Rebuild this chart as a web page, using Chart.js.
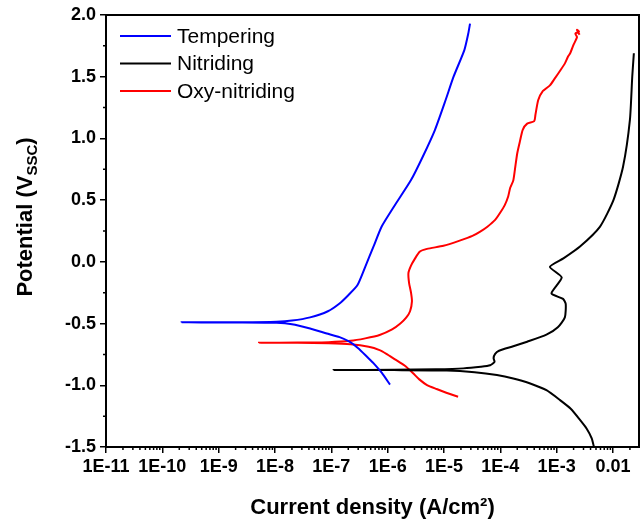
<!DOCTYPE html>
<html>
<head>
<meta charset="utf-8">
<script src="https://cdn.jsdelivr.net/npm/chart.js@4.4.0/dist/chart.umd.min.js"></script>
<style>
  html, body { margin: 0; padding: 0; background: #fff; }
  #wrap { width: 644px; height: 521px; }
</style>
</head>
<body>
<div id="wrap"><canvas id="myChart"></canvas></div>
<script>
const seriesNames = ['Tempering', 'Nitriding', 'Oxy-nitriding'];
const seriesColors = ['#0000ff', '#000000', '#ff0000'];

// each curve runs cathodic end -> corrosion potential -> anodic end
const temperingCurrent = [1.1e-6, 7.9e-7, 5.6e-7, 4.3e-7, 3.0e-7, 2.1e-7, 1.4e-7, 8.3e-8, 4.2e-8, 2.0e-8, 1.07e-8, 2.5e-9, 2.2e-10,
  2.5e-9, 1.07e-8, 2.0e-8, 4.2e-8, 8.7e-8, 1.4e-7, 2.0e-7, 2.9e-7, 4.0e-7, 5.6e-7, 7.8e-7, 1.29e-6, 2.6e-6, 4.2e-6, 6.9e-6, 1.07e-5, 1.48e-5, 2.3e-5, 2.7e-5, 2.9e-5];
const temperingPotential = [-0.995, -0.90, -0.82, -0.769, -0.70, -0.647, -0.61, -0.58, -0.54, -0.505, -0.494, -0.491, -0.490,
  -0.489, -0.485, -0.476, -0.450, -0.400, -0.337, -0.270, -0.19, -0.04, 0.123, 0.285, 0.447, 0.663, 0.852, 1.068, 1.311, 1.50, 1.716, 1.85, 1.93];

const nitridingCurrent = [4.6e-3, 4.2e-3, 3.4e-3, 2.6e-3, 1.78e-3, 1.15e-3, 6.6e-4, 3.4e-4, 1.7e-4, 8.7e-5, 3.5e-5, 1.12e-5, 1.3e-6, 1.1e-7,
  1.3e-6, 7.2e-6, 2.2e-5, 4.5e-5, 6.6e-5, 7.9e-5, 7.6e-5, 8.1e-5, 9.5e-5, 1.7e-4, 3.0e-4, 6.6e-4, 1.05e-3, 1.4e-3, 1.45e-3, 1.3e-3, 8.1e-4,
  1.23e-3, 7.6e-4, 1.32e-3, 2.6e-3, 5.9e-3, 1.02e-2, 1.51e-2, 2.0e-2, 2.2e-2, 2.35e-2];
const nitridingPotential = [-1.50, -1.43, -1.35, -1.28, -1.19, -1.12, -1.04, -0.985, -0.945, -0.917, -0.894, -0.880, -0.877, -0.876,
  -0.875, -0.870, -0.863, -0.850, -0.838, -0.81, -0.78, -0.745, -0.720, -0.684, -0.647, -0.59, -0.53, -0.45, -0.34, -0.30, -0.255,
  -0.126, -0.04, 0.028, 0.124, 0.286, 0.50, 0.77, 1.15, 1.50, 1.69];

const oxyCurrent = [1.78e-5, 1.1e-5, 7.4e-6, 5.0e-6, 3.6e-6, 2.8e-6, 2.0e-6, 1.35e-6, 9.5e-7, 7.2e-7, 4.6e-7, 2.2e-7, 9.0e-8, 2.5e-8, 5.2e-9,
  2.5e-8, 9.0e-8, 2.2e-7, 4.0e-7, 7.2e-7, 1.2e-6, 1.68e-6, 2.15e-6, 2.5e-6, 2.7e-6, 2.6e-6, 2.4e-6, 2.34e-6, 2.6e-6, 3.0e-6, 3.7e-6,
  5.0e-6, 9.8e-6, 1.9e-5, 3.2e-5, 4.4e-5, 5.9e-5, 8.1e-5, 1.0e-4, 1.2e-4, 1.38e-4, 1.5e-4, 1.7e-4, 1.82e-4, 2.0e-4, 2.24e-4, 2.5e-4,
  3.0e-4, 4.0e-4, 4.2e-4, 4.7e-4, 5.6e-4, 7.6e-4, 9.1e-4, 1.2e-3, 1.41e-3, 1.58e-3, 1.74e-3, 2.0e-3, 2.3e-3, 2.15e-3, 2.5e-3, 2.3e-3, 2.55e-3];
const oxyPotential = [-1.093, -1.06, -1.03, -0.998, -0.95, -0.90, -0.84, -0.79, -0.745, -0.715, -0.688, -0.668, -0.660, -0.656, -0.655,
  -0.654, -0.651, -0.640, -0.620, -0.593, -0.548, -0.50, -0.45, -0.40, -0.32, -0.25, -0.17, -0.09, -0.03, 0.02, 0.082,
  0.105, 0.13, 0.172, 0.21, 0.245, 0.285, 0.34, 0.40, 0.46, 0.53, 0.60, 0.66, 0.75, 0.88, 0.98, 1.07,
  1.12, 1.14, 1.19, 1.31, 1.38, 1.43, 1.48, 1.56, 1.61, 1.66, 1.69, 1.76, 1.82, 1.85, 1.865, 1.88, 1.84];

const xTickValues = [1e-11, 1e-10, 1e-9, 1e-8, 1e-7, 1e-6, 1e-5, 1e-4, 1e-3, 1e-2];
const xTickLabels = ['1E-11', '1E-10', '1E-9', '1E-8', '1E-7', '1E-6', '1E-5', '1E-4', '1E-3', '0.01'];
const yTickLabels = ['-1.5', '-1.0', '-0.5', '0.0', '0.5', '1.0', '1.5', '2.0'];

const toPoints = (xs, ys) => xs.map((x, i) => ({ x: x, y: ys[i] }));

// minor ticks, drawn with the scales
const minorTicks = {
  id: 'minorTicks',
  afterDraw(chart) {
    const ctx = chart.ctx;
    const xs = chart.scales.x, ys = chart.scales.y;
    const area = chart.chartArea;
    ctx.save();
    ctx.strokeStyle = '#000';
    ctx.lineWidth = 1.5;
    ctx.beginPath();
    for (let e = -11; e <= -2; e++) {
      for (let m = 2; m <= 9; m++) {
        const v = m * Math.pow(10, e);
        if (v > xs.max) continue;
        const px = xs.getPixelForValue(v);
        ctx.moveTo(px, area.bottom);
        ctx.lineTo(px, area.bottom + 3);
      }
    }
    for (let v = -1.25; v < 2; v += 0.5) {
      const py = ys.getPixelForValue(v);
      ctx.moveTo(area.left, py);
      ctx.lineTo(area.left - 3, py);
    }
    ctx.stroke();
    // frame
    ctx.lineWidth = 2;
    ctx.strokeRect(area.left, area.top, area.right - area.left, area.bottom - area.top);
    ctx.restore();
  }
};

// legend in the upper left corner of the plot
const innerLegend = {
  id: 'innerLegend',
  afterDraw(chart) {
    const ctx = chart.ctx;
    const area = chart.chartArea;
    ctx.save();
    ctx.font = '21px "Liberation Sans", Arial, sans-serif';
    ctx.textBaseline = 'middle';
    chart.data.datasets.forEach((ds, i) => {
      const y = area.top + 21 + i * 27.5;
      ctx.strokeStyle = ds.borderColor;
      ctx.lineWidth = 2;
      ctx.beginPath();
      ctx.moveTo(area.left + 14, y);
      ctx.lineTo(area.left + 65, y);
      ctx.stroke();
      ctx.fillStyle = '#000';
      ctx.fillText(ds.label, area.left + 71, y + 1);
    });
    ctx.restore();
  }
};

// y axis title with subscript
const yTitle = {
  id: 'yTitle',
  afterDraw(chart) {
    const ctx = chart.ctx;
    const area = chart.chartArea;
    const big = 'bold 22px "Liberation Sans", Arial, sans-serif';
    const small = 'bold 15px "Liberation Sans", Arial, sans-serif';
    const parts = [['Potential (V', big, 0], ['SSC', small, 5], [')', big, 0]];
    ctx.save();
    let total = 0;
    parts.forEach(p => { ctx.font = p[1]; total += ctx.measureText(p[0]).width; });
    ctx.translate(32, (area.top + area.bottom) / 2 - 14);
    ctx.rotate(-Math.PI / 2);
    ctx.fillStyle = '#000';
    ctx.textBaseline = 'alphabetic';
    let x = -total / 2;
    parts.forEach(p => {
      ctx.font = p[1];
      ctx.fillText(p[0], x, p[2]);
      x += ctx.measureText(p[0]).width;
    });
    ctx.restore();
  }
};

new Chart(document.getElementById('myChart'), {
  type: 'scatter',
  data: {
    datasets: [
      { label: seriesNames[0], data: toPoints(temperingCurrent, temperingPotential), borderColor: seriesColors[0] },
      { label: seriesNames[1], data: toPoints(nitridingCurrent, nitridingPotential), borderColor: seriesColors[1] },
      { label: seriesNames[2], data: toPoints(oxyCurrent, oxyPotential), borderColor: seriesColors[2] }
    ].map(ds => Object.assign(ds, { showLine: true, borderWidth: 2, pointRadius: 0, tension: 0.2, backgroundColor: ds.borderColor }))
  },
  options: {
    responsive: true,
    maintainAspectRatio: false,
    animation: false,
    layout: { padding: { top: 15, right: 5, left: 0, bottom: 0 } },
    plugins: {
      legend: { display: false },
      tooltip: { enabled: false }
    },
    scales: {
      x: {
        type: 'logarithmic',
        min: 1e-11,
        max: 0.029,
        afterBuildTicks: axis => { axis.ticks = xTickValues.map(v => ({ value: v, major: true })); },
        afterFit: axis => { axis.height = 74; },
        ticks: {
          autoSkip: false,
          maxRotation: 0,
          padding: 3,
          color: '#000',
          font: { family: '"Liberation Sans", Arial, sans-serif', size: 18, weight: 'bold' },
          callback: (v) => xTickLabels[xTickValues.findIndex(t => Math.abs(Math.log10(t) - Math.log10(v)) < 1e-6)] || ''
        },
        grid: { drawOnChartArea: false, drawTicks: true, tickLength: 6, color: '#000', lineWidth: 1.5 },
        border: { color: '#000', width: 2 },
        title: {
          display: true,
          text: 'Current density (A/cm²)',
          color: '#000',
          padding: { top: 12, bottom: 0 },
          font: { family: '"Liberation Sans", Arial, sans-serif', size: 22, weight: 'bold' }
        }
      },
      y: {
        min: -1.5,
        max: 2.0,
        afterFit: axis => { axis.width = 106; },
        ticks: {
          stepSize: 0.5,
          padding: 4,
          color: '#000',
          font: { family: '"Liberation Sans", Arial, sans-serif', size: 18, weight: 'bold' },
          callback: (v) => yTickLabels[Math.round((v + 1.5) / 0.5)]
        },
        grid: { drawOnChartArea: false, drawTicks: true, tickLength: 6, color: '#000', lineWidth: 1.5 },
        border: { color: '#000', width: 2 }
      }
    }
  },
  plugins: [minorTicks, innerLegend, yTitle]
});
</script>
</body>
</html>
